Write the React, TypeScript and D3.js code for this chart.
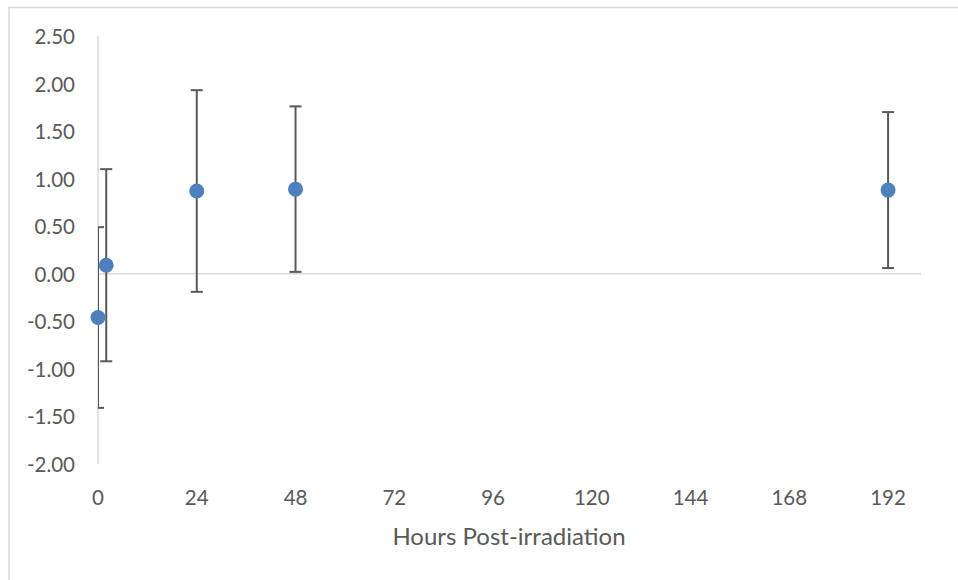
import React from 'react';
import * as d3 from 'd3';

// values
const hours = [0, 2, 24, 48, 192];
const means = [-0.46, 0.09, 0.87, 0.89, 0.88];
const errors = [0.95, 1.01, 1.06, 0.87, 0.82];
const xTicks = [0, 24, 48, 72, 96, 120, 144, 168, 192];
const yTicks = [-2, -1.5, -1, -0.5, 0, 0.5, 1, 1.5, 2, 2.5];

const W = 958;
const H = 580;
const PLOT = { LEFT: 98, RIGHT: 921, TOP: 36, BOTTOM: 464 };
const FONT = 'Lato, "Open Sans", sans-serif';
const TEXT = '#595959';

// Excel style: plain hyphen for negatives
const fmt = (v: number) => d3.format('.2f')(v).replace('\u2212', '-');

const App = () => {
  const x = d3.scaleLinear().domain([0, 200]).range([PLOT.LEFT, PLOT.RIGHT]);
  const y = d3.scaleLinear().domain([-2, 2.5]).range([PLOT.BOTTOM, PLOT.TOP]);
  const cap = 6;

  return (
    <svg
      width={W}
      height={H}
      style={{ position: 'absolute', left: 0, top: 0, background: '#fff' }}
    >
      <rect x={9} y={7.5} width={W} height={H} fill="#fff" stroke="#d9d9d9" strokeWidth={1.5} />
      <defs>
        <clipPath id="plot">
          <rect x={PLOT.LEFT} y={0} width={PLOT.RIGHT - PLOT.LEFT} height={H} />
        </clipPath>
      </defs>

      {/* axes */}
      <line x1={x(0)} x2={x(0)} y1={y(2.5)} y2={y(-2)} stroke="#d9d9d9" strokeWidth={1.5} />
      <line x1={x(0)} x2={x(200)} y1={y(0)} y2={y(0)} stroke="#d9d9d9" strokeWidth={1.5} />

      {yTicks.map((t) => (
        <text
          key={t}
          x={75}
          y={y(t)}
          textAnchor="end"
          dominantBaseline="central"
          fontFamily={FONT}
          fontSize={20.5}
          fill={TEXT}
        >
          {fmt(t)}
        </text>
      ))}
      {xTicks.map((t) => (
        <text
          key={t}
          x={x(t)}
          y={497}
          textAnchor="middle"
          dominantBaseline="central"
          fontFamily={FONT}
          fontSize={20.5}
          fill={TEXT}
        >
          {t}
        </text>
      ))}
      <text
        x={509}
        y={535}
        textAnchor="middle"
        dominantBaseline="central"
        fontFamily={FONT}
        fontSize={24}
        fill={TEXT}
      >
        Hours Post-irradiation
      </text>

      {/* error bars */}
      <g clipPath="url(#plot)" stroke="#595959" strokeWidth={2}>
        {hours.map((h, i) => (
          <g key={h}>
            <line x1={x(h)} x2={x(h)} y1={y(means[i] + errors[i])} y2={y(means[i] - errors[i])} />
            <line x1={x(h) - cap} x2={x(h) + cap} y1={y(means[i] + errors[i])} y2={y(means[i] + errors[i])} />
            <line x1={x(h) - cap} x2={x(h) + cap} y1={y(means[i] - errors[i])} y2={y(means[i] - errors[i])} />
          </g>
        ))}
      </g>

      {hours.map((h, i) => (
        <circle key={h} cx={x(h)} cy={y(means[i])} r={7.5} fill="#4e80bd" />
      ))}
    </svg>
  );
};

export default App;
